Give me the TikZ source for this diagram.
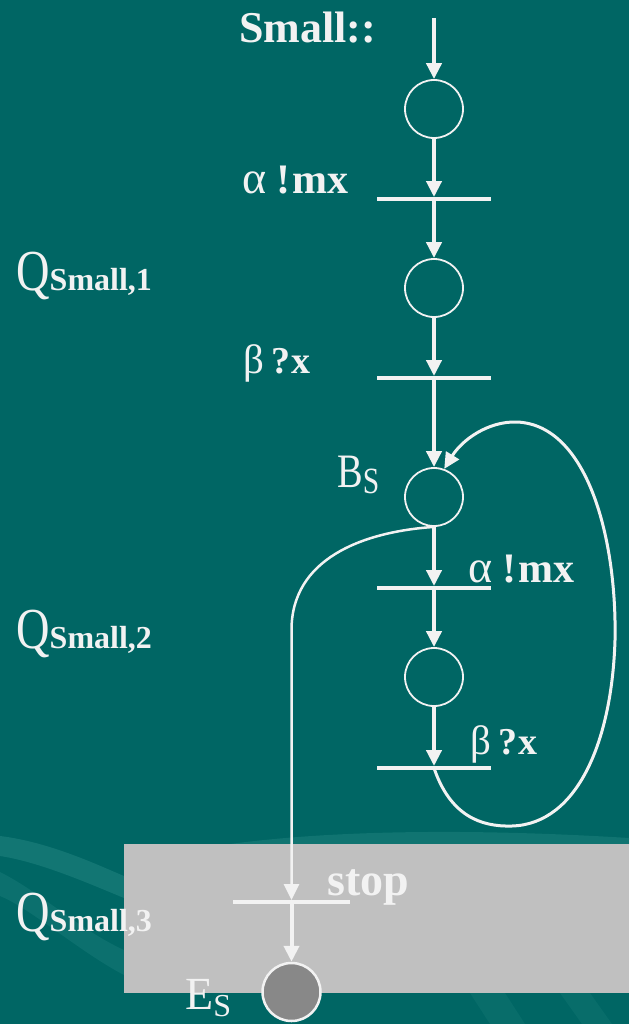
\documentclass[tikz,border=0pt]{standalone}
\usepackage{fontspec}
\usepackage{graphicx}
\setmainfont{Liberation Serif}
\usetikzlibrary{arrows.meta}
\definecolor{bg}{RGB}{0,102,100}
\definecolor{bglight}{RGB}{40,138,134}
\definecolor{panel}{RGB}{192,192,192}
\definecolor{endfill}{RGB}{136,136,136}
\definecolor{ink}{RGB}{242,242,242}
\begin{document}
\begin{tikzpicture}[x=1pt,y=-1pt,
  place/.style={circle, draw=ink, line width=1.8pt, minimum size=58pt, inner sep=0pt},
  endplace/.style={place, fill=endfill, line width=2.5pt},
  bar/.style={rectangle, fill=ink, minimum width=114pt, minimum height=3.5pt, inner sep=0pt},
  flow/.style={draw=ink, line width=4pt, -{Triangle[length=16pt,width=15pt]}},
  loopline/.style={draw=ink, line width=3pt, -{Triangle[length=16pt,width=15pt]}},
  exitline/.style={draw=ink, line width=2.5pt, -{Triangle[length=16pt,width=15pt]}},
  lbl/.style={text=ink, inner sep=0pt, anchor=base west}]
\useasboundingbox (0,0) rectangle (629,1024);
\fill[bg] (0,0) rectangle (629,1024);
% background swooshes
\fill[bglight, opacity=0.45] (0,836) .. controls (50,842) and (100,866) .. (124,876) -- (124,898) .. controls (90,884) and (40,862) .. (0,856) -- cycle;
\fill[bglight, opacity=0.3] (0,872) .. controls (40,892) and (80,930) .. (124,950) -- (124,975) .. controls (80,952) and (30,908) .. (0,896) -- cycle;
\fill[bglight, opacity=0.4] (230,844) .. controls (350,828) and (500,830) .. (629,838) -- (629,844) -- cycle;
\fill[bglight, opacity=0.2] (470,993) -- (505,993) -- (525,1024) -- (490,1024) -- cycle;
\fill[bglight, opacity=0.2] (560,993) -- (590,993) -- (612,1024) -- (582,1024) -- cycle;
% grey panel
\fill[panel] (124,844) rectangle (629,993);

% places and transitions
\coordinate (start) at (434,18);
\node[place] (p1) at (434,109) {};
\node[bar] (t1) at (434,199) {};
\node[place] (p2) at (434,288) {};
\node[bar] (t2) at (434,378) {};
\node[place] (bs) at (434,497) {};
\node[bar] (t3) at (434,588) {};
\node[place] (p4) at (434,677) {};
\node[bar] (t4) at (434,768) {};
\node[bar, minimum width=117pt] (ts) at (291.5,902) {};
\node[endplace] (es) at (291.5,992) {};

% connectors
\draw[flow] (start) -- (p1);
\draw[flow] (p1) -- (t1);
\draw[flow] (t1) -- (p2);
\draw[flow] (p2) -- (t2);
\draw[flow] (t2) -- (bs);
\draw[flow] (bs) -- (t3);
\draw[flow] (t3) -- (p4);
\draw[flow] (p4) -- (t4);
\draw[loopline] (t4.center) .. controls (450,815) and (480,827) .. (512,826)
  .. controls (578,824) and (612,740) .. (615,640)
  .. controls (617,540) and (588,425) .. (517,422)
  .. controls (488,421) and (462,440) .. (bs.70);
\draw[exitline] (bs.south) .. controls (360,532) and (291.5,560) .. (291.5,630) -- (ts);
\draw[flow] (ts) -- (es);

% labels
\node[lbl, font=\bfseries\fontsize{44}{44}\selectfont] (lsmall) at (239,43) {Small::};
\node[lbl] (la1) at (242,194) {\fontsize{46}{46}\selectfont α\hspace{10pt}\fontsize{42}{42}\selectfont\textbf{!\hspace{2pt}mx}};
\node[lbl] (lb1) at (243,373) {\fontsize{41}{41}\selectfont β\hspace{7pt}\fontsize{38}{38}\selectfont\textbf{?\hspace{1pt}x}};
\node[lbl] (la2) at (468,582) {\fontsize{46}{46}\selectfont α\hspace{10pt}\fontsize{42}{42}\selectfont\textbf{!\hspace{2pt}mx}};
\node[lbl] (lb2) at (470,754) {\fontsize{41}{41}\selectfont β\hspace{7pt}\fontsize{38}{38}\selectfont\textbf{?\hspace{1pt}x}};
\node[lbl, font=\bfseries\fontsize{46}{46}\selectfont] (lstop) at (327,895) {stop};
\node[lbl] (lbs) at (337,487) {\scalebox{0.8}[1]{\fontsize{48}{48}\selectfont B}\raisebox{-6pt}{\scalebox{0.8}[1]{\fontsize{37}{37}\selectfont S}}};
\node[lbl] (les) at (185,1009) {\fontsize{46}{46}\selectfont E\raisebox{-7pt}{\fontsize{32}{32}\selectfont S}};
\node[lbl] (lq1) at (16,290) {\scalebox{0.8}[1]{\fontsize{58}{58}\selectfont Q}\fontsize{32}{32}\selectfont\textbf{Small,1}};
\node[lbl] (lq2) at (16,648) {\scalebox{0.8}[1]{\fontsize{58}{58}\selectfont Q}\fontsize{32}{32}\selectfont\textbf{Small,2}};
\node[lbl] (lq3) at (16,931) {\scalebox{0.8}[1]{\fontsize{58}{58}\selectfont Q}\fontsize{32}{32}\selectfont\textbf{Small,3}};
\end{tikzpicture}
\end{document}
